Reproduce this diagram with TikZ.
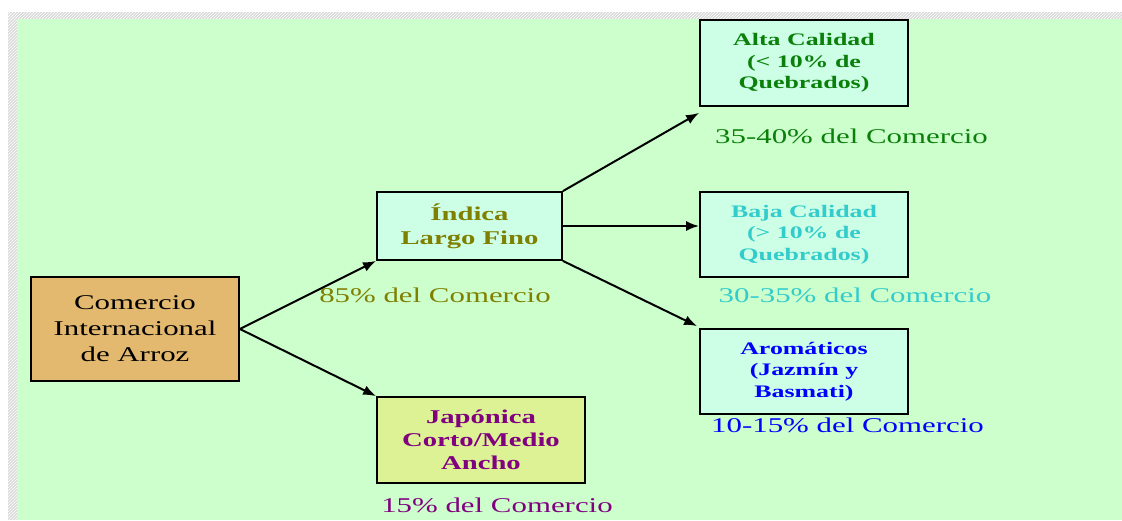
\documentclass[tikz,border=0pt]{standalone}
\usepackage{fontspec}
\setmainfont{Liberation Serif}[FakeStretch=1.47]
\usepackage{tikz}
\usetikzlibrary{calc,patterns,arrows.meta}
\definecolor{fondo}{HTML}{CCFFCC}
\definecolor{menta}{HTML}{CCFFE6}
\definecolor{tostado}{HTML}{E3B86F}
\definecolor{limon}{HTML}{DDF294}
\definecolor{oliva}{HTML}{808000}
\definecolor{verde}{HTML}{0A800A}
\definecolor{turquesa}{HTML}{33CCCC}
\definecolor{azul}{HTML}{0000FF}
\definecolor{morado}{HTML}{800080}

\begin{document}
\begin{tikzpicture}[x=1pt,y=-1pt,
	caja/.style={draw=black, line width=1.8pt, fill=menta, inner sep=0pt, align=center,
		font=\bfseries\fontsize{17.6}{21.5}\selectfont},
	grande/.style={font=\bfseries\fontsize{19.5}{24}\selectfont},
	cuota/.style={font=\fontsize{21}{25}\selectfont},
	flecha/.style={line width=2pt, -{Latex[length=13pt,width=10pt]}}]
		%%%%% START %%%%%
		\useasboundingbox (0,0) rectangle (1122,520);
		
		\fill[gray!30] (8,12) rectangle (1122,19);
		\fill[gray!30] (8,12) rectangle (17,520);
		\fill[pattern=north east lines, pattern color=white] (8,12) rectangle (1122,19);
		\fill[pattern=north east lines, pattern color=white] (8,12) rectangle (17,520);
		\fill[fondo] (17,19) rectangle (1122,520);
		
		\node[caja, fill=tostado, minimum width=208pt, minimum height=104pt,
			font=\fontsize{21}{26}\selectfont] (comercio) at (135,329)
			{Comercio\\Internacional\\de Arroz};
		
		\node[caja, grande, text=oliva, minimum width=185pt, minimum height=68pt] (indica) at (469.5,226)
			{Índica\\Largo Fino};
		\node[caja, grande, fill=limon, text=morado, minimum width=208pt, minimum height=86pt,
			font=\bfseries\fontsize{19.5}{23}\selectfont] (japonica) at (481,440)
			{Japónica\\Corto/Medio\\Ancho};
		
		\node[caja, text=verde, minimum width=208pt, minimum height=86pt] (alta) at (804,63)
			{Alta Calidad\\(< 10\% de\\Quebrados)};
		\node[caja, text=turquesa, minimum width=208pt, minimum height=85pt] (baja) at (804,234.5)
			{Baja Calidad\\(> 10\% de\\Quebrados)};
		\node[caja, text=azul, minimum width=208pt, minimum height=85pt] (aromaticos) at (804,371.5)
			{Aromáticos\\(Jazmín y\\Basmati)};
		
		\node[cuota, text=oliva] (c85) at (435,295) {85\% del Comercio};
		\node[cuota, text=morado] (c15) at (497,505) {15\% del Comercio};
		\node[cuota, text=verde] (c3540) at (851.5,136) {35-40\% del Comercio};
		\node[cuota, text=turquesa] (c3035) at (855,295) {30-35\% del Comercio};
		\node[cuota, text=azul] (c1015) at (847.5,425) {10-15\% del Comercio};
		
		\draw[flecha] (comercio.east) -- (indica.south west);
		\draw[flecha] (comercio.east) -- (japonica.north west);
		\draw[flecha] (indica.north east) -- ([yshift=-6pt]alta.south west);
		\draw[flecha] (indica.east) -- (baja.west |- indica.east);
		\draw[flecha] (indica.south east) -- ([xshift=-2pt,yshift=2pt]aromaticos.north west);
		
		%%%%% END %%%%%
	\end{tikzpicture}
\end{document}
